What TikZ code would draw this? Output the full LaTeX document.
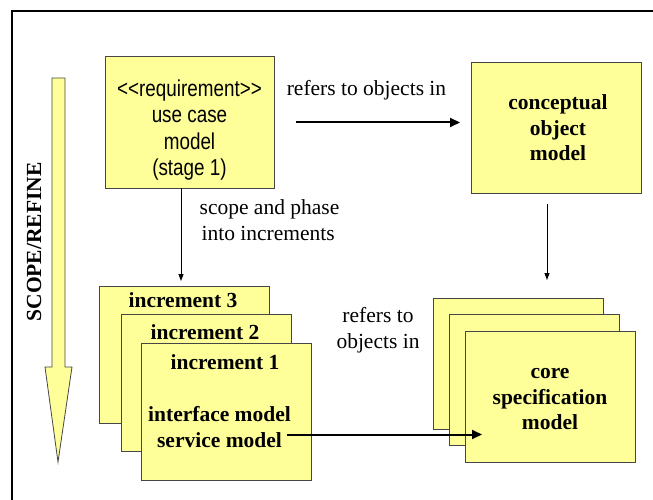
\documentclass[tikz,border=0pt]{standalone}
\usepackage{fontspec}
\setmainfont{Liberation Serif}
\newfontfamily\ucsans[FakeStretch=0.82]{Liberation Sans}
\usetikzlibrary{arrows.meta}
\definecolor{boxyellow}{RGB}{255,255,153}
\definecolor{boxedge}{RGB}{70,70,70}

\begin{document}
\begin{tikzpicture}[x=1pt,y=-1pt,
  modelbox/.style={draw=boxedge, line width=0.8pt, fill=boxyellow,
    minimum width=170pt, minimum height=131pt, inner sep=0pt, outer sep=0pt},
  incbox/.style={modelbox, minimum height=137pt},
  lbl/.style={font=\fontsize{21.5}{25.5}\selectfont, align=center, inner sep=0pt},
  blbl/.style={lbl, font=\fontsize{21.5}{25.5}\selectfont\bfseries},
  uclbl/.style={align=center, inner sep=0pt, font=\ucsans\fontsize{23}{26.5}\selectfont},
  bigarrow/.style={line width=2pt, -{Triangle[length=10pt,width=9pt]}},
  thinarrow/.style={line width=0.9pt, -{Triangle[length=7pt,width=5pt]}}]

\useasboundingbox (0,0) rectangle (653,500);

% outer frame (only top and left edges fall inside the page)
\draw[line width=2.5pt] (12,505) -- (12,11) -- (660,11);

% SCOPE/REFINE arrow
\draw[draw=boxedge, line width=0.8pt, fill=boxyellow, line join=miter]
  (52,78) -- (65,78) -- (65,367) -- (72,367) -- (58,462) -- (45,367) -- (52,367) -- cycle;
\node[blbl, rotate=90] (scope) at (34,242) {SCOPE/REFINE};

% use case model
\node[modelbox, minimum width=169pt, minimum height=132pt] (uc) at (189.5,122) {};
\node[uclbl] (uctext) at (189.5,130) {<<requirement>>\\use case\\model\\(stage 1)};

% conceptual object model
\node[modelbox] (cob) at (556,127.5) {};
\node[blbl] (cobtext) at (558,128) {conceptual\\object\\model};

% increments
\node[incbox] (inc3) at (184,355) {};
\node[incbox] (inc2) at (206.5,383) {};
\node[incbox] (inc1) at (226.5,412) {};
\node[blbl] (inc3t) at (183,300) {increment 3};
\node[blbl] (inc2t) at (205,332) {increment 2};
\node[blbl] (inc1t) at (225,362) {increment 1};
\node[blbl] (svc) at (219.5,427) {interface model\\service model};

% core specification model stack
\node[modelbox] (cs3) at (518,363.5) {};
\node[modelbox] (cs2) at (534,380) {};
\node[modelbox] (cs1) at (550,397) {};
\node[blbl] (cstext) at (550,399.5) {core\\specification\\model};

% connector labels
\node[lbl] (refA) at (366.5,90) {refers to objects in};
\node[lbl, align=left] (scopelbl) at (269.5,220) {scope and phase\\\hspace*{2pt}into increments};
\node[lbl] (refB) at (378,330) {refers to\\objects in};

% connector end points
\coordinate (a1s) at (296,122.5);
\coordinate (a1e) at (460,122.5);
\coordinate (ucdown) at (181,188);
\coordinate (incin) at (181,281);
\coordinate (cobdown) at (547,204);
\coordinate (csin) at (547,280);
\coordinate (svcend) at (287,434.5);
\coordinate (csarrow) at (482,434.5);

% connectors
\draw[bigarrow] (a1s) -- (a1e);
\draw[thinarrow] (ucdown) -- (incin);
\draw[thinarrow] (cobdown) -- (csin);
\draw[bigarrow] (svcend) -- (csarrow);

\end{tikzpicture}
\end{document}
